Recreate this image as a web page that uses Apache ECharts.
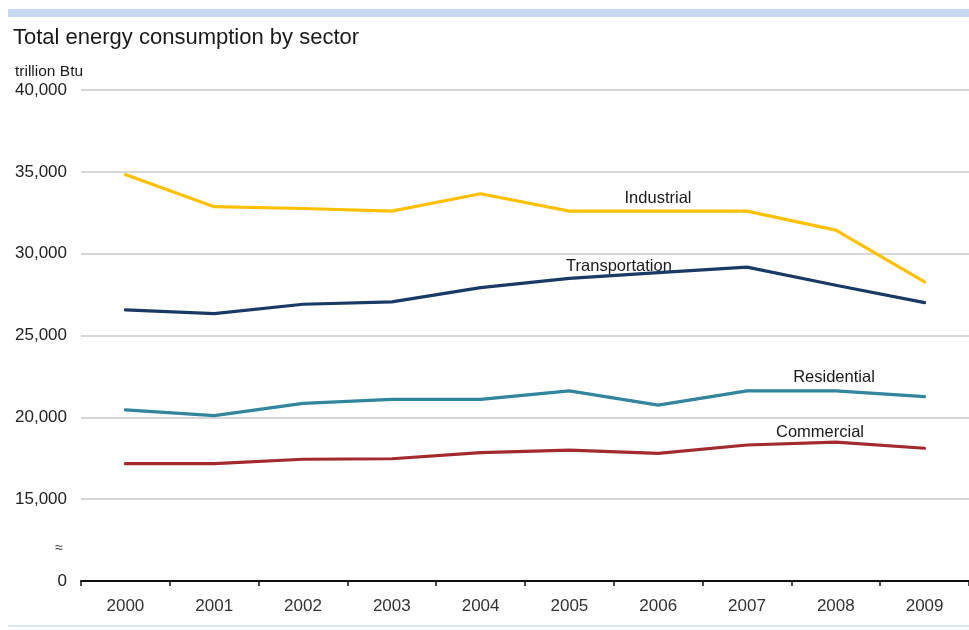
<!DOCTYPE html>
<html>
<head>
<meta charset="utf-8">
<script src="https://cdn.jsdelivr.net/npm/echarts@6/dist/echarts.min.js"></script>
<style>
  html, body { margin: 0; padding: 0; background: #ffffff; }
  #chart { width: 969px; height: 630px; }
</style>
</head>
<body>
<div id="chart"></div>
<script>
// Years on the category axis
const years = ['2000', '2001', '2002', '2003', '2004', '2005', '2006', '2007', '2008', '2009'];

// Consumption by sector, trillion Btu
const industrial     = [34830, 32870, 32760, 32600, 33660, 32600, 32600, 32600, 31440, 28270];
const transportation = [26560, 26340, 26910, 27050, 27930, 28490, 28840, 29180, 28070, 27010];
const residential    = [20450, 20100, 20850, 21100, 21100, 21620, 20750, 21620, 21620, 21260];
const commercial     = [17170, 17170, 17440, 17470, 17840, 18000, 17800, 18310, 18490, 18110];

// Value axis: the lowest tick stands for zero (axis is broken below 15,000)
const axisMin = 10000;
const axisMax = 40000;
const axisStep = 5000;

const font = '"Liberation Sans", Arial, sans-serif';

const chart = echarts.init(document.getElementById('chart'), null, { renderer: 'canvas' });

function line(name, data, color) {
  return {
    name: name,
    type: 'line',
    data: data,
    symbol: 'none',
    silent: true,
    lineStyle: { color: color, width: 3.2, join: 'round', cap: 'round' },
    animation: false
  };
}

function note(text, x, y) {
  return {
    type: 'text', x: x, y: y, silent: true,
    style: { text: text, font: '16.5px ' + font, fill: '#1a1a1a', align: 'center', verticalAlign: 'middle' }
  };
}

chart.setOption({
  backgroundColor: '#ffffff',
  animation: false,
  grid: { left: 81, width: 904, top: 90, bottom: 49, containLabel: false },
  xAxis: {
    type: 'category',
    data: years,
    boundaryGap: true,
    axisLine: { show: true, lineStyle: { color: '#111111', width: 2 } },
    axisTick: { show: true, alignWithLabel: false, length: 5, lineStyle: { color: '#111111', width: 1.5 } },
    axisLabel: { color: '#333333', fontFamily: font, fontSize: 17, margin: 17 },
    splitLine: { show: false }
  },
  yAxis: {
    type: 'value',
    min: axisMin,
    max: axisMax,
    interval: axisStep,
    axisLine: { show: false },
    axisTick: { show: false },
    axisLabel: {
      color: '#222222', fontFamily: font, fontSize: 17, margin: 14,
      formatter: function (v) {
        return v === axisMin ? '0' : v.toLocaleString('en-US');
      }
    },
    splitLine: { show: true, lineStyle: { color: '#c8c8c8', width: 1.5 } }
  },
  series: [
    line('Industrial', industrial, '#FFC000'),
    line('Transportation', transportation, '#1A3A66'),
    line('Residential', residential, '#31859C'),
    line('Commercial', commercial, '#A32A2E')
  ],
  graphic: [
    { type: 'rect', left: 8, top: 9, shape: { width: 961, height: 8 }, style: { fill: '#c6d9f1' }, silent: true },
    { type: 'rect', left: 8, top: 625, shape: { width: 961, height: 2 }, style: { fill: '#dbe5f4' }, silent: true },
    { type: 'text', x: 13, y: 38, silent: true,
      style: { text: 'Total energy consumption by sector', font: '22px ' + font, fill: '#1a1a1a', align: 'left', verticalAlign: 'middle' } },
    { type: 'text', x: 15, y: 72, silent: true,
      style: { text: 'trillion Btu', font: '15.5px ' + font, fill: '#1a1a1a', align: 'left', verticalAlign: 'middle' } },
    { type: 'text', x: 59, y: 548, silent: true,
      style: { text: '≈', font: '14px ' + font, fill: '#333333', align: 'center', verticalAlign: 'middle' } },
    note('Industrial', 658, 198),
    note('Transportation', 619, 266),
    note('Residential', 834, 377),
    note('Commercial', 820, 432)
  ]
});
</script>
</body>
</html>
